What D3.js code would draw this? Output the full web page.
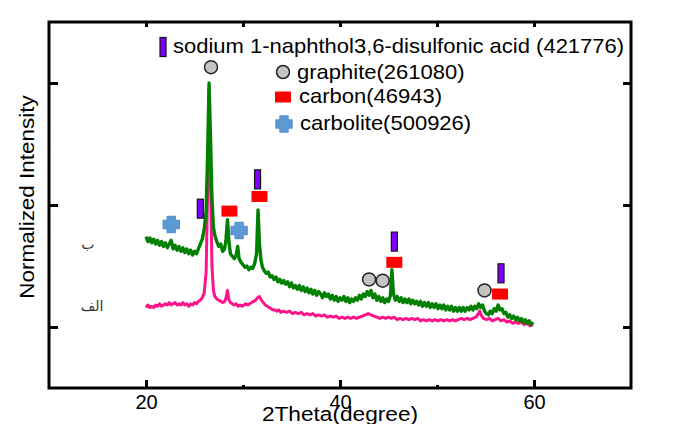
<!DOCTYPE html>
<html>
<head>
<meta charset="utf-8">
<script src="https://cdn.jsdelivr.net/npm/d3@7"></script>
<style>
body { margin: 0; background: #fff; }
text { font-family: "Liberation Sans", Arial, sans-serif; fill: #000; }
</style>
</head>
<body>
<svg id="chart"></svg>
<script>
// Chart size
var width = 676, height = 424;

// Axis ticks
var xMajor = [20, 40, 60];
var xMinor = [30, 50];
var xTop = [20, 30, 40, 50, 60];
var yTicks = [0.5, 1.5, 2.5];

// sample (ب) - green trace, [2theta, intensity]
var sampleB = [
  [20.0,1.24],[20.2,1.20],[20.4,1.23],[20.6,1.19],[20.8,1.22],[21.0,1.18],[21.2,1.21],[21.4,1.17],
  [21.6,1.20],[21.8,1.16],[22.0,1.19],[22.2,1.15],[22.4,1.18],[22.6,1.21],[22.8,1.14],[23.0,1.17],
  [23.2,1.13],[23.4,1.16],[23.6,1.12],[23.8,1.15],[24.0,1.11],[24.2,1.14],[24.4,1.10],[24.6,1.13],
  [24.8,1.09],[25.0,1.12],[25.2,1.10],[25.4,1.14],[25.6,1.18],[25.8,1.22],[26.0,1.30],[26.2,1.45],
  [26.35,1.90],[26.5,2.50],[26.65,2.05],[26.8,1.55],[26.95,1.32],[27.1,1.25],[27.3,1.20],[27.5,1.16],
  [27.7,1.18],[27.9,1.12],[28.1,1.14],[28.25,1.22],[28.4,1.38],[28.55,1.20],[28.7,1.10],[28.9,1.08],
  [29.1,1.06],[29.3,1.09],[29.45,1.16],[29.6,1.06],[29.8,1.03],[30.0,1.01],[30.2,0.99],[30.4,1.00],
  [30.6,0.97],[30.8,0.99],[31.0,0.98],[31.2,1.02],[31.4,1.10],[31.55,1.46],[31.7,1.18],[31.85,1.05],
  [32.0,0.99],[32.2,0.96],[32.4,0.94],[32.6,0.95],[32.8,0.91],[33.0,0.92],[33.2,0.89],[33.4,0.91],
  [33.6,0.87],[33.8,0.89],[34.0,0.86],[34.2,0.88],[34.4,0.85],[34.6,0.87],[34.8,0.83],[35.0,0.86],
  [35.2,0.82],[35.4,0.84],[35.6,0.81],[35.8,0.84],[36.0,0.80],[36.2,0.83],[36.4,0.79],[36.6,0.82],
  [36.8,0.78],[37.0,0.81],[37.2,0.77],[37.4,0.80],[37.6,0.76],[37.8,0.79],[38.0,0.77],[38.2,0.74],
  [38.4,0.78],[38.6,0.75],[38.8,0.77],[39.0,0.73],[39.2,0.76],[39.4,0.72],[39.6,0.75],[39.8,0.71],
  [40.0,0.74],[40.2,0.72],[40.4,0.75],[40.6,0.71],[40.8,0.74],[41.0,0.70],[41.2,0.73],[41.4,0.71],
  [41.6,0.74],[41.8,0.72],[42.0,0.76],[42.2,0.73],[42.4,0.77],[42.6,0.75],[42.8,0.79],[43.0,0.76],
  [43.2,0.80],[43.4,0.74],[43.6,0.77],[43.8,0.72],[44.0,0.75],[44.2,0.71],[44.4,0.74],[44.6,0.70],
  [44.8,0.73],[45.0,0.71],[45.2,0.76],[45.35,0.97],[45.5,0.78],[45.7,0.72],[45.9,0.75],[46.1,0.71],
  [46.3,0.74],[46.5,0.70],[46.7,0.73],[46.9,0.70],[47.1,0.73],[47.3,0.69],[47.5,0.72],[47.7,0.69],
  [47.9,0.71],[48.1,0.68],[48.3,0.71],[48.5,0.67],[48.7,0.70],[48.9,0.67],[49.1,0.70],[49.3,0.66],
  [49.5,0.69],[49.7,0.66],[49.9,0.69],[50.1,0.65],[50.3,0.68],[50.5,0.65],[50.7,0.68],[50.9,0.64],
  [51.1,0.67],[51.3,0.64],[51.5,0.67],[51.7,0.63],[51.9,0.66],[52.1,0.63],[52.3,0.66],[52.5,0.63],
  [52.7,0.66],[52.9,0.63],[53.1,0.66],[53.3,0.64],[53.5,0.67],[53.7,0.64],[53.9,0.67],[54.1,0.65],
  [54.3,0.69],[54.5,0.66],[54.7,0.68],[54.9,0.63],[55.1,0.61],[55.3,0.60],[55.5,0.63],[55.7,0.61],
  [55.9,0.65],[56.1,0.63],[56.3,0.68],[56.5,0.64],[56.7,0.65],[56.9,0.61],[57.1,0.62],[57.3,0.58],
  [57.5,0.60],[57.7,0.57],[57.9,0.59],[58.1,0.56],[58.3,0.58],[58.5,0.55],[58.7,0.57],[58.9,0.54],
  [59.1,0.56],[59.3,0.53],[59.5,0.55],[59.7,0.52],[59.9,0.54]
];

// sample (الف) - pink trace
var sampleA = [
  [20.0,0.66],[20.2,0.68],[20.4,0.66],[20.6,0.67],[20.8,0.66],[21.0,0.68],[21.2,0.67],[21.4,0.69],
  [21.6,0.67],[21.8,0.68],[22.0,0.69],[22.2,0.68],[22.4,0.70],[22.6,0.68],[22.8,0.69],[23.0,0.70],
  [23.2,0.68],[23.4,0.69],[23.6,0.68],[23.8,0.70],[24.0,0.68],[24.2,0.69],[24.4,0.67],[24.6,0.69],
  [24.8,0.68],[25.0,0.70],[25.2,0.69],[25.4,0.71],[25.6,0.72],[25.8,0.74],[26.0,0.78],[26.2,0.95],
  [26.35,1.60],[26.5,2.45],[26.65,1.70],[26.8,1.00],[26.95,0.80],[27.1,0.75],[27.3,0.73],[27.5,0.72],
  [27.7,0.71],[27.9,0.70],[28.1,0.71],[28.25,0.74],[28.4,0.80],[28.55,0.72],[28.7,0.70],[28.9,0.69],
  [29.1,0.68],[29.3,0.69],[29.5,0.67],[29.7,0.68],[29.9,0.67],[30.1,0.68],[30.3,0.69],[30.5,0.68],
  [30.7,0.69],[30.9,0.70],[31.1,0.71],[31.3,0.72],[31.5,0.74],[31.7,0.75],[31.9,0.72],[32.1,0.70],
  [32.3,0.68],[32.5,0.67],[32.7,0.66],[32.9,0.65],[33.1,0.64],[33.3,0.64],[33.5,0.63],[33.7,0.64],
  [33.9,0.62],[34.2,0.63],[34.5,0.62],[34.8,0.63],[35.1,0.61],[35.4,0.62],[35.7,0.61],[36.0,0.62],
  [36.3,0.60],[36.6,0.61],[36.9,0.60],[37.2,0.61],[37.5,0.59],[37.8,0.60],[38.1,0.59],[38.4,0.60],
  [38.7,0.58],[39.0,0.59],[39.3,0.58],[39.6,0.59],[39.9,0.57],[40.2,0.58],[40.5,0.57],[40.8,0.58],
  [41.1,0.57],[41.4,0.58],[41.7,0.57],[42.0,0.58],[42.3,0.59],[42.6,0.60],[42.9,0.61],[43.2,0.60],
  [43.5,0.59],[43.8,0.58],[44.1,0.57],[44.4,0.58],[44.7,0.57],[45.0,0.58],[45.3,0.57],[45.6,0.58],
  [45.9,0.56],[46.2,0.57],[46.5,0.56],[46.8,0.57],[47.1,0.56],[47.4,0.57],[47.7,0.56],[48.0,0.57],
  [48.3,0.55],[48.6,0.56],[48.9,0.55],[49.2,0.56],[49.5,0.55],[49.8,0.56],[50.1,0.55],[50.4,0.56],
  [50.7,0.55],[51.0,0.56],[51.3,0.55],[51.6,0.56],[51.9,0.55],[52.2,0.56],[52.5,0.57],[52.8,0.56],
  [53.1,0.57],[53.4,0.56],[53.7,0.57],[54.0,0.58],[54.2,0.60],[54.4,0.63],[54.6,0.59],[54.8,0.57],
  [55.1,0.56],[55.4,0.57],[55.7,0.55],[56.0,0.56],[56.3,0.57],[56.6,0.55],[56.9,0.56],[57.2,0.54],
  [57.5,0.55],[57.8,0.53],[58.1,0.54],[58.4,0.53],[58.7,0.54],[59.0,0.52],[59.3,0.53],[59.6,0.51],
  [59.9,0.52]
];

// Phase markers [2theta, level]
var naphtholMarks = [[25.6, 1.47], [31.5, 1.71], [45.6, 1.20], [56.6, 0.94]];
var graphiteMarks = [[26.7, 2.63], [43.0, 0.89], [44.4, 0.88], [54.9, 0.80]];
var carbonMarks = [[28.6, 1.45], [31.7, 1.57], [45.6, 1.03], [56.5, 0.77]];
var carboliteMarks = [[22.6, 1.34], [29.6, 1.29]];

// Sample labels
var sampleLabels = [["ب", 14.0, 1.17], ["الف", 14.45, 0.66]];

var legendItems = [
  {type: "naphthol", text: "sodium 1-naphthol3,6-disulfonic acid (421776)"},
  {type: "graphite", text: "graphite(261080)"},
  {type: "carbon", text: "carbon(46943)"},
  {type: "carbolite", text: "carbolite(500926)"}
];

var colors = {
  green: "#008000",
  pink: "#ff138a",
  naphthol: "#7f00ff",
  graphite: "#c3c3c3",
  carbon: "#ff0000",
  carbolite: "#5b9bd5"
};

var svg = d3.select("#chart")
    .attr("width", width)
    .attr("height", height);

var x = d3.scaleLinear().domain([10, 70]).range([49, 631]);
var y = d3.scaleLinear().domain([0, 3]).range([388, 22]);

// axes with ticks drawn inward
function styleAxis(g) {
    g.select(".domain").remove();
    g.selectAll(".tick line").attr("stroke", "#000").attr("stroke-width", 3);
    g.selectAll(".tick text").attr("font-size", 20).attr("fill", "#000")
        .attr("font-family", "'Liberation Sans', Arial, sans-serif");
}

svg.append("g")
    .attr("transform", "translate(0," + y.range()[0] + ")")
    .call(d3.axisBottom(x).tickValues(xMajor).tickSizeInner(-8).tickSizeOuter(0).tickPadding(7).tickFormat(d3.format("d")))
    .call(styleAxis);

svg.append("g")
    .attr("transform", "translate(0," + y.range()[0] + ")")
    .call(d3.axisBottom(x).tickValues(xMinor).tickSizeInner(-3).tickSizeOuter(0).tickFormat(""))
    .call(styleAxis);

svg.append("g")
    .attr("transform", "translate(0," + y.range()[1] + ")")
    .call(d3.axisTop(x).tickValues(xTop).tickSizeInner(-5).tickSizeOuter(0).tickFormat(""))
    .call(styleAxis);

svg.append("g")
    .attr("transform", "translate(" + x.range()[0] + ",0)")
    .call(d3.axisLeft(y).tickValues(yTicks).tickSizeInner(-9).tickSizeOuter(0).tickFormat(""))
    .call(styleAxis);

svg.append("g")
    .attr("transform", "translate(" + x.range()[1] + ",0)")
    .call(d3.axisRight(y).tickValues(yTicks).tickSizeInner(-8).tickSizeOuter(0).tickFormat(""))
    .call(styleAxis);

// frame
svg.append("rect")
    .attr("x", x.range()[0])
    .attr("y", y.range()[1])
    .attr("width", x.range()[1] - x.range()[0])
    .attr("height", y.range()[0] - y.range()[1])
    .attr("fill", "none")
    .attr("stroke", "#000")
    .attr("stroke-width", 3);

// axis titles (slightly wide lettering, as in the source)
svg.append("text")
    .attr("transform", "translate(340,421) scale(1.08,1)")
    .attr("text-anchor", "middle")
    .attr("font-size", 21)
    .text("2Theta(degree)");

svg.append("text")
    .attr("transform", "translate(34,197) rotate(-90) scale(1.07,1)")
    .attr("text-anchor", "middle")
    .attr("font-size", 21)
    .text("Normalized Intensity");

// traces
var line = d3.line()
    .x(function (d) { return x(d[0]); })
    .y(function (d) { return y(d[1]); });

svg.append("path")
    .datum(sampleA)
    .attr("d", line)
    .attr("fill", "none")
    .attr("stroke", colors.pink)
    .attr("stroke-width", 3)
    .attr("stroke-linejoin", "round");

svg.append("path")
    .datum(sampleB)
    .attr("d", line)
    .attr("fill", "none")
    .attr("stroke", colors.green)
    .attr("stroke-width", 3.4)
    .attr("stroke-linejoin", "round");

// sample labels
svg.selectAll(".sample-label")
    .data(sampleLabels)
    .enter().append("text")
    .attr("class", "sample-label")
    .attr("x", function (d) { return x(d[1]); })
    .attr("y", function (d) { return y(d[2]) + 4; })
    .attr("text-anchor", "middle")
    .attr("font-size", 14)
    .style("font-family", "'DejaVu Sans', sans-serif")
    .style("fill", "#333")
    .text(function (d) { return d[0]; });

// marker shapes
var crossPath = "M-4,-8H4V-4H8V4H4V8H-4V4H-8V-4H-4Z";

function drawMarker(g, type) {
    if (type === "naphthol") {
        g.append("rect").attr("x", -3).attr("y", -9.5).attr("width", 6).attr("height", 19)
            .attr("fill", colors.naphthol).attr("stroke", "#111").attr("stroke-width", 1.2);
    } else if (type === "graphite") {
        g.append("circle").attr("r", 6.5)
            .attr("fill", colors.graphite).attr("stroke", "#222").attr("stroke-width", 1.5);
    } else if (type === "carbon") {
        g.append("rect").attr("x", -8).attr("y", -5.5).attr("width", 16).attr("height", 11)
            .attr("fill", colors.carbon);
    } else {
        g.append("path").attr("d", crossPath)
            .attr("fill", colors.carbolite).attr("stroke", "#5a94cc")
            .attr("stroke-width", 1.5).attr("stroke-linejoin", "round");
    }
}

var markerSets = [
    ["naphthol", naphtholMarks],
    ["graphite", graphiteMarks],
    ["carbon", carbonMarks],
    ["carbolite", carboliteMarks]
];

markerSets.forEach(function (set) {
    svg.selectAll(".m-" + set[0])
        .data(set[1])
        .enter().append("g")
        .attr("class", "m-" + set[0])
        .attr("transform", function (d) { return "translate(" + x(d[0]) + "," + y(d[1]) + ")"; })
        .each(function () { drawMarker(d3.select(this), set[0]); });
});

// legend
var legendPos = [
    {sx: 163, sy: 47, tx: 173, ty: 53},
    {sx: 283, sy: 72, tx: 297, ty: 79},
    {sx: 283, sy: 97, tx: 299, ty: 103},
    {sx: 284, sy: 124, tx: 300, ty: 130}
];

var legend = svg.append("g").attr("class", "legend");
legendItems.forEach(function (item, i) {
    var p = legendPos[i];
    var mg = legend.append("g").attr("transform", "translate(" + p.sx + "," + p.sy + ")");
    drawMarker(mg, item.type);
    legend.append("text")
        .attr("transform", "translate(" + p.tx + "," + p.ty + ") scale(1.1,1)")
        .attr("font-size", 20)
        .text(item.text);
});
</script>
</body>
</html>
